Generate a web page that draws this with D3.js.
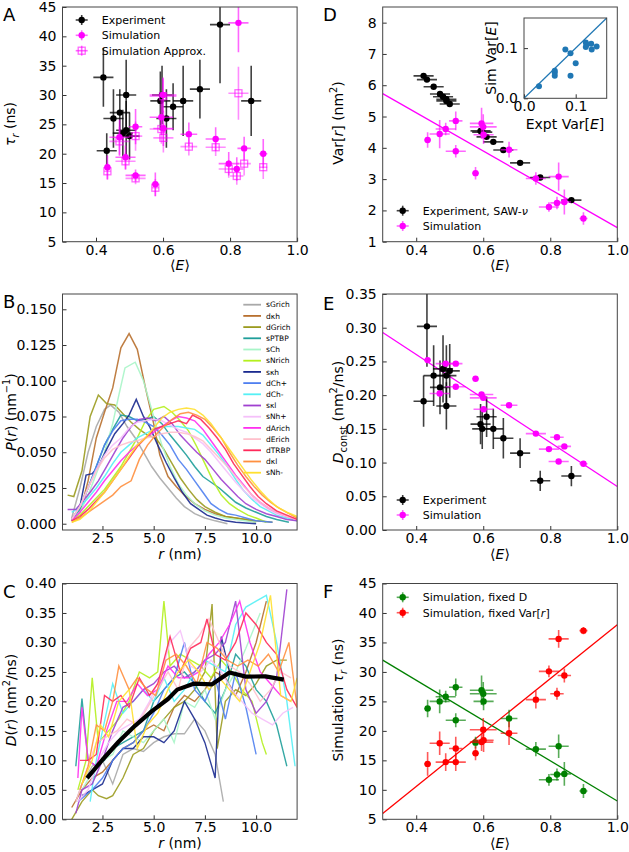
<!DOCTYPE html>
<html>
<head>
<meta charset="utf-8">
<script src="https://cdn.jsdelivr.net/npm/d3@7"></script>
<style>
  body { margin: 0; background: #fff; }
  text { font-family: "DejaVu Sans", sans-serif; }
</style>
</head>
<body>
<script>
// ---------- datos ----------
// Experimento (16 secuencias)
const expE = [0.422, 0.432, 0.452, 0.471, 0.48, 0.49, 0.49, 0.50, 0.592, 0.597, 0.61, 0.63, 0.66, 0.71, 0.77, 0.863];
const expEErr = [0.03, 0.03, 0.03, 0.03, 0.03, 0.03, 0.03, 0.03, 0.03, 0.03, 0.03, 0.03, 0.03, 0.03, 0.03, 0.03];
const expTau = [33, 20.5, 26, 27, 23.5, 24, 30, 23, 29, 30, 26, 28, 29, 31, 42, 29];
const expTauErr = [5, 3, 5, 4, 4, 5, 6, 4, 5, 5, 5, 4, 6, 5, 10, 6];
const expVar = [6.30, 6.18, 5.95, 5.72, 5.63, 5.55, 5.50, 5.40, 4.54, 4.50, 4.35, 4.19, 3.93, 3.52, 3.05, 2.33];
const expD = [0.191, 0.302, 0.229, 0.2115, 0.239, 0.229, 0.184, 0.236, 0.157, 0.150, 0.168, 0.150, 0.136, 0.114, 0.073, 0.080];
const expDErr = [0.038, 0.06, 0.045, 0.04, 0.05, 0.045, 0.035, 0.04, 0.03, 0.03, 0.03, 0.03, 0.03, 0.022, 0.015, 0.015];

// Simulación (16 secuencias)
const simE = [0.434, 0.47, 0.488, 0.518, 0.518, 0.577, 0.595, 0.6, 0.601, 0.677, 0.757, 0.796, 0.82, 0.825, 0.842, 0.899];
const simEErr = [0.01, 0.03, 0.03, 0.02, 0.03, 0.01, 0.035, 0.04, 0.03, 0.025, 0.03, 0.03, 0.02, 0.03, 0.02, 0.012];
const simTau = [17.7, 22.8, 19.4, 24.6, 16.3, 14.8, 26.2, 30.0, 24.3, 23.3, 22.5, 18.3, 17.4, 42.3, 20.9, 20.0];
const simTauErr = [2, 3, 2, 3, 1, 2, 3, 3, 3, 2, 2, 2, 2, 5, 2, 2.5];
const simTauApprox = [17.0, 22.1, 18.7, 23.0, 15.8, 14.2, 24.2, 29.8, 22.7, 21.2, 21.1, 17.4, 16.2, 30.3, 18.3, 17.7];
const simTauApproxErr = [1.5, 2.5, 1.5, 2.5, 1, 1.5, 2.5, 3, 2.5, 1.5, 1.5, 1.5, 1.5, 4.5, 2, 2];
const simVar = [4.25, 4.44, 4.60, 4.86, 3.89, 3.19, 4.78, 4.67, 4.42, 3.94, 3.02, 2.11, 2.24, 3.08, 2.27, 1.74];
const simVarErr = [0.25, 0.45, 0.2, 0.3, 0.2, 0.2, 0.5, 0.4, 0.3, 0.25, 0.2, 0.15, 0.2, 0.45, 0.4, 0.2];
const simD = [0.252, 0.2025, 0.2467, 0.2467, 0.2125, 0.2244, 0.201, 0.196, 0.179, 0.185, 0.143, 0.120, 0.1375, 0.1017, 0.124, 0.0983];
const simDErr = [0.003, 0.003, 0.003, 0.003, 0.003, 0.003, 0.003, 0.003, 0.003, 0.003, 0.003, 0.003, 0.003, 0.003, 0.003, 0.003];
const tauFixedD = [23.8, 25.0, 25.8, 27.4, 21.8, 18.0, 26.9, 26.3, 25.0, 22.1, 16.9, 11.7, 12.6, 17.4, 12.7, 9.8];
const tauFixedDErr = [1.5, 2, 1, 1.5, 1.2, 1, 2.5, 2, 1.5, 1.5, 1.2, 1, 1, 2, 2, 1.2];
const tauFixedVar = [14.4, 17.9, 14.7, 17.0, 14.7, 16.2, 18.1, 20.2, 18.4, 19.6, 25.3, 30.1, 26.3, 35.6, 29.4, 37.0];
const tauFixedVarErr = [2, 2, 1.5, 2, 1.5, 1.2, 1.5, 2, 2, 2, 1.5, 1, 1, 1.5, 1.2, 0.6];

// Ajustes lineales [ordenada, pendiente]
const fitVar = [7.564, -6.114];
const fitD = [0.3909, -0.3264];
const fitFixedD = [42.24, -34.14];
const fitFixedVar = [-7.71, 45.71];

// Recuadro: Var[E] experimento vs simulación
const insetExpt = [0.029, 0.0595, 0.0595, 0.0595, 0.080, 0.090, 0.090, 0.100, 0.1196, 0.121, 0.1196, 0.130, 0.131, 0.1405];
const insetSim = [0.024, 0.055, 0.051, 0.045, 0.097, 0.090, 0.045, 0.070, 0.111, 0.1066, 0.102, 0.1086, 0.0974, 0.1033];

// Curvas por secuencia
const seqNames = ["sGrich", "dκh", "dGrich", "sPTBP", "sCh", "sNrich", "sκh", "dCh+", "dCh-", "sκl", "sNh+", "dArich", "dErich", "dTRBP", "dκl", "sNh-"];
const seqColors = ["#a9a9a9", "#b8702f", "#9b9b1f", "#1f9e9a", "#a8f5c8", "#b4f01e", "#1a2a8f", "#4f7ff0", "#55f0f5", "#a040d0", "#f5c0fa", "#ff30f0", "#ffc0cc", "#ff2a5a", "#ff9040", "#ffe030"];

const pCurves = [
  [[1.0,0.004],[1.4,0.025],[1.8,0.05],[2.2,0.068],[2.6,0.08],[2.9,0.083],[3.3,0.078],[3.7,0.068],[4.1,0.06],[4.5,0.05],[4.9,0.04],[5.3,0.032],[5.7,0.025],[6.1,0.018],[6.5,0.012],[7.0,0.007],[7.5,0.004],[8.0,0.002],[8.6,0.0]],
  [[1.0,0.002],[1.4,0.008],[1.8,0.03],[2.2,0.06],[2.6,0.078],[3.0,0.095],[3.4,0.123],[3.8,0.133],[4.2,0.122],[4.6,0.095],[5.0,0.07],[5.3,0.048],[5.7,0.033],[6.1,0.026],[6.5,0.02],[7.0,0.014],[7.5,0.01],[8.0,0.007],[8.5,0.005],[9.0,0.004],[9.5,0.003],[10.0,0.001]],
  [[0.8,0.020],[1.1,0.019],[1.5,0.037],[1.9,0.075],[2.3,0.090],[2.7,0.084],[3.1,0.083],[3.5,0.077],[3.9,0.071],[4.3,0.066],[4.7,0.062],[5.1,0.060],[5.5,0.052],[5.9,0.042],[6.3,0.032],[6.7,0.024],[7.1,0.017],[7.5,0.012],[8.0,0.008],[8.5,0.005],[9.0,0.004],[9.5,0.003],[10.0,0.002],[10.8,0.001]],
  [[1.0,0.003],[1.4,0.01],[1.8,0.025],[2.2,0.04],[2.6,0.055],[3.0,0.066],[3.4,0.076],[3.8,0.075],[4.2,0.072],[4.6,0.073],[5.0,0.075],[5.4,0.070],[5.8,0.062],[6.2,0.055],[6.6,0.048],[7.0,0.040],[7.4,0.033],[7.8,0.029],[8.2,0.025],[8.6,0.02],[9.0,0.015],[9.5,0.011],[10.0,0.008],[10.5,0.005],[11.0,0.003],[11.6,0.001]],
  [[1.0,0.002],[1.4,0.008],[1.8,0.02],[2.2,0.035],[2.6,0.05],[3.0,0.07],[3.3,0.09],[3.6,0.109],[4.1,0.113],[4.5,0.100],[4.8,0.085],[5.1,0.07],[5.4,0.055],[5.8,0.04],[6.2,0.028],[6.6,0.02],[7.0,0.014],[7.5,0.009],[8.0,0.006],[8.5,0.004],[9.0,0.003],[10.0,0.001]],
  [[1.0,0.002],[1.4,0.006],[1.8,0.012],[2.2,0.018],[2.6,0.024],[3.0,0.032],[3.4,0.04],[3.8,0.05],[4.2,0.06],[4.6,0.072],[5.0,0.08],[5.5,0.082],[5.9,0.078],[6.3,0.072],[6.7,0.065],[7.1,0.054],[7.5,0.042],[7.9,0.03],[8.3,0.02],[8.7,0.014],[9.1,0.01],[9.6,0.006],[10.0,0.004],[10.5,0.001]],
  [[1.0,0.003],[1.4,0.012],[1.7,0.034],[2.0,0.035],[2.3,0.04],[2.7,0.052],[3.1,0.063],[3.5,0.07],[3.8,0.076],[4.15,0.087],[4.5,0.075],[4.8,0.068],[5.2,0.055],[5.6,0.043],[6.0,0.032],[6.4,0.022],[6.8,0.014],[7.2,0.01],[7.6,0.006],[8.0,0.004],[8.5,0.002],[9.0,0.001],[10.0,0.0]],
  [[1.0,0.002],[1.4,0.012],[1.8,0.025],[2.2,0.04],[2.6,0.055],[3.0,0.065],[3.4,0.072],[3.8,0.073],[4.2,0.073],[4.6,0.071],[5.0,0.068],[5.4,0.062],[5.8,0.055],[6.2,0.045],[6.6,0.038],[7.0,0.03],[7.4,0.022],[7.8,0.014],[8.2,0.01],[8.6,0.007],[9.0,0.006],[9.5,0.004],[10.0,0.002],[10.8,0.001]],
  [[1.0,0.008],[1.4,0.012],[1.8,0.018],[2.2,0.025],[2.6,0.033],[3.0,0.042],[3.4,0.05],[3.8,0.055],[4.2,0.06],[4.6,0.063],[5.0,0.066],[5.4,0.068],[5.8,0.068],[6.2,0.068],[6.6,0.067],[7.0,0.066],[7.4,0.062],[7.8,0.055],[8.2,0.048],[8.6,0.04],[9.0,0.031],[9.4,0.023],[9.8,0.017],[10.2,0.012],[10.6,0.009],[11.0,0.006],[11.5,0.004],[12.0,0.002]],
  [[0.8,0.010],[1.2,0.010],[1.5,0.015],[1.9,0.022],[2.3,0.03],[2.7,0.04],[3.1,0.05],[3.5,0.06],[3.9,0.068],[4.3,0.073],[4.7,0.074],[5.1,0.072],[5.5,0.075],[5.9,0.07],[6.3,0.062],[6.7,0.056],[7.1,0.05],[7.5,0.045],[7.9,0.038],[8.3,0.031],[8.7,0.025],[9.1,0.019],[9.5,0.014],[10.0,0.01],[10.5,0.007],[11.0,0.005],[11.5,0.003],[12.0,0.002]],
  [[1.0,0.003],[1.4,0.012],[1.8,0.025],[2.2,0.038],[2.6,0.048],[3.0,0.055],[3.4,0.06],[3.8,0.067],[4.2,0.071],[4.6,0.072],[5.0,0.073],[5.4,0.072],[5.8,0.069],[6.2,0.066],[6.6,0.064],[7.0,0.06],[7.4,0.056],[7.8,0.05],[8.2,0.043],[8.6,0.036],[9.0,0.029],[9.4,0.023],[9.8,0.018],[10.2,0.014],[10.6,0.01],[11.0,0.007],[11.5,0.005],[12.0,0.003]],
  [[1.0,0.002],[1.4,0.008],[1.8,0.015],[2.2,0.022],[2.6,0.03],[3.0,0.037],[3.4,0.044],[3.8,0.05],[4.2,0.055],[4.6,0.06],[5.0,0.064],[5.4,0.068],[5.8,0.072],[6.2,0.075],[6.6,0.074],[7.0,0.072],[7.4,0.066],[7.8,0.058],[8.2,0.05],[8.6,0.042],[9.0,0.034],[9.4,0.027],[9.8,0.02],[10.2,0.015],[10.6,0.011],[11.0,0.008],[11.5,0.005],[12.0,0.003]],
  [[1.0,0.003],[1.4,0.012],[1.8,0.025],[2.2,0.037],[2.6,0.046],[3.0,0.052],[3.4,0.055],[3.8,0.057],[4.2,0.058],[4.6,0.06],[5.0,0.061],[5.4,0.063],[5.8,0.064],[6.2,0.064],[6.6,0.063],[7.0,0.061],[7.4,0.058],[7.8,0.052],[8.2,0.046],[8.6,0.04],[9.0,0.033],[9.4,0.026],[9.8,0.02],[10.2,0.015],[10.6,0.011],[11.0,0.008],[11.5,0.005],[12.0,0.003]],
  [[1.0,0.002],[1.4,0.005],[1.8,0.01],[2.2,0.016],[2.6,0.022],[3.0,0.03],[3.4,0.038],[3.8,0.046],[4.2,0.054],[4.6,0.06],[5.0,0.066],[5.4,0.068],[5.8,0.07],[6.2,0.072],[6.6,0.07],[6.9,0.076],[7.3,0.073],[7.7,0.067],[8.1,0.06],[8.5,0.052],[8.9,0.042],[9.3,0.034],[9.7,0.026],[10.1,0.019],[10.5,0.014],[11.0,0.009],[11.5,0.006],[12.0,0.003]],
  [[1.0,0.001],[1.4,0.004],[1.8,0.008],[2.2,0.012],[2.6,0.016],[3.0,0.02],[3.4,0.026],[3.9,0.03],[4.3,0.045],[4.7,0.055],[5.1,0.062],[5.5,0.068],[5.9,0.073],[6.3,0.077],[6.7,0.078],[7.1,0.076],[7.5,0.073],[7.9,0.067],[8.3,0.06],[8.7,0.05],[9.1,0.041],[9.5,0.033],[9.9,0.026],[10.3,0.02],[10.7,0.015],[11.1,0.011],[11.6,0.007],[12.0,0.004]],
  [[1.0,0.001],[1.4,0.003],[1.8,0.008],[2.2,0.015],[2.6,0.022],[3.0,0.03],[3.4,0.038],[3.8,0.047],[4.2,0.055],[4.6,0.06],[5.0,0.067],[5.4,0.074],[5.8,0.078],[6.2,0.08],[6.6,0.081],[7.0,0.08],[7.4,0.076],[7.8,0.07],[8.2,0.062],[8.6,0.054],[9.0,0.046],[9.4,0.038],[9.8,0.03],[10.2,0.023],[10.6,0.017],[11.0,0.012],[11.5,0.008],[12.0,0.005]]
];

const dCurves = [
  [[1.2,0.03],[1.5,0.06],[2.0,0.09],[2.5,0.1],[3.0,0.06],[3.5,0.11],[4.0,0.12],[4.5,0.115],[5.0,0.13],[5.5,0.14],[6.0,0.145],[6.5,0.145],[7.0,0.17],[7.5,0.15],[8.0,0.11],[8.4,0.03]],
  [[1.0,0.02],[1.5,0.05],[2.0,0.07],[2.5,0.08],[3.0,0.1],[3.5,0.12],[4.0,0.13],[4.5,0.15],[5.0,0.16],[5.5,0.15],[6.0,0.19],[6.5,0.21],[7.0,0.2],[7.5,0.22],[8.0,0.25],[8.5,0.24],[9.0,0.21],[9.5,0.25],[10.0,0.3],[10.5,0.37]],
  [[1.0,0.0],[1.5,0.03],[2.0,0.05],[2.3,0.04],[2.7,0.035],[3.0,0.04],[3.5,0.07],[4.0,0.11],[4.5,0.12],[5.0,0.15],[5.5,0.17],[6.0,0.19],[6.5,0.2],[7.0,0.22],[7.5,0.25],[7.85,0.365],[8.1,0.12],[8.5,0.2],[9.0,0.22],[9.5,0.21],[10.0,0.23],[10.5,0.26],[11.0,0.27],[11.5,0.27]],
  [[1.2,0.09],[1.5,0.205],[1.8,0.1],[2.2,0.09],[2.6,0.1],[3.0,0.12],[3.5,0.13],[4.0,0.14],[4.5,0.15],[5.0,0.2],[5.5,0.22],[6.0,0.24],[6.5,0.25],[7.0,0.23],[7.5,0.2],[8.0,0.18],[8.5,0.22],[9.0,0.28],[9.5,0.26],[10.0,0.22],[10.5,0.2],[11.0,0.16],[11.5,0.09]],
  [[1.5,0.05],[2.0,0.08],[2.5,0.1],[3.0,0.11],[3.5,0.15],[4.0,0.14],[4.5,0.13],[5.0,0.15],[5.5,0.17],[6.0,0.13],[6.5,0.2],[7.0,0.19],[7.5,0.22],[8.0,0.17],[8.5,0.22],[9.0,0.25],[9.5,0.29],[10.2,0.35]],
  [[1.3,0.05],[1.7,0.1],[2.0,0.24],[2.3,0.13],[2.8,0.15],[3.3,0.17],[3.8,0.2],[4.3,0.25],[4.8,0.24],[5.2,0.25],[5.5,0.37],[5.8,0.26],[6.3,0.28],[6.8,0.27],[7.3,0.26],[7.8,0.24],[8.3,0.27],[8.8,0.25],[9.3,0.22],[9.8,0.2],[10.3,0.13],[10.5,0.11]],
  [[1.5,0.04],[2.0,0.05],[2.5,0.06],[3.0,0.1],[3.5,0.12],[4.0,0.12],[4.5,0.14],[5.0,0.14],[5.5,0.13],[6.0,0.15],[6.5,0.2],[7.0,0.17],[7.5,0.13],[8.0,0.07],[8.3,0.31],[8.7,0.25]],
  [[1.3,0.03],[2.0,0.05],[2.5,0.07],[3.0,0.1],[3.5,0.12],[4.0,0.13],[4.5,0.15],[5.0,0.18],[5.5,0.22],[6.0,0.24],[6.5,0.3],[7.0,0.22],[7.5,0.2],[8.0,0.24],[8.5,0.17],[9.0,0.25],[9.5,0.19],[10.0,0.11]],
  [[1.9,0.03],[2.2,0.1],[2.5,0.15],[3.0,0.23],[3.5,0.18],[4.0,0.2],[4.5,0.22],[5.0,0.2],[5.5,0.24],[6.0,0.2],[6.5,0.22],[7.0,0.25],[7.5,0.27],[8.0,0.26],[8.5,0.25],[9.0,0.33],[9.5,0.36],[10.0,0.37],[10.5,0.38],[11.0,0.3],[11.5,0.2],[11.9,0.09]],
  [[1.2,0.01],[1.5,0.05],[2.0,0.06],[2.5,0.1],[3.0,0.15],[3.5,0.19],[4.0,0.2],[4.5,0.22],[5.0,0.23],[5.5,0.25],[6.0,0.26],[6.5,0.24],[7.0,0.25],[7.5,0.27],[8.0,0.28],[8.5,0.3],[9.0,0.37],[9.5,0.22],[10.0,0.18],[10.5,0.2],[11.0,0.24],[11.5,0.39]],
  [[1.3,0.03],[1.8,0.05],[2.3,0.1],[2.8,0.13],[3.3,0.15],[3.8,0.16],[4.3,0.17],[4.8,0.2],[5.3,0.24],[5.8,0.3],[6.3,0.32],[6.8,0.26],[7.3,0.25],[7.8,0.27],[8.3,0.25],[8.8,0.22],[9.3,0.2],[9.8,0.18],[10.3,0.17],[10.8,0.16],[11.3,0.18],[11.8,0.19]],
  [[1.3,0.07],[1.5,0.19],[1.8,0.1],[2.2,0.09],[2.7,0.15],[3.2,0.2],[3.7,0.2],[4.2,0.23],[4.7,0.21],[5.2,0.22],[5.7,0.26],[6.2,0.24],[6.7,0.24],[7.2,0.25],[7.7,0.28],[8.2,0.3],[8.7,0.33],[9.2,0.37],[9.7,0.3],[10.2,0.25],[10.7,0.23],[11.2,0.21],[11.7,0.2]],
  [[1.2,0.03],[1.7,0.08],[2.2,0.13],[2.7,0.14],[3.2,0.15],[3.7,0.17],[4.2,0.16],[4.7,0.19],[5.2,0.22],[5.7,0.25],[6.2,0.22],[6.7,0.29],[7.2,0.31],[7.7,0.34],[8.2,0.3],[8.7,0.26],[9.2,0.25],[9.7,0.23],[10.2,0.2],[10.7,0.22],[11.2,0.25],[11.7,0.24]],
  [[1.4,0.1],[1.8,0.1],[2.2,0.11],[2.6,0.21],[3.0,0.2],[3.4,0.21],[3.8,0.19],[4.3,0.24],[4.8,0.21],[5.2,0.23],[5.8,0.31],[6.3,0.25],[6.8,0.29],[7.3,0.3],[7.6,0.34],[8.0,0.28],[8.5,0.27],[9.0,0.3],[9.5,0.35],[10.0,0.33],[10.5,0.3],[11.0,0.28],[11.5,0.22],[12.0,0.19]],
  [[1.4,0.05],[1.8,0.09],[2.2,0.16],[2.6,0.15],[3.0,0.2],[3.3,0.26],[3.8,0.22],[4.2,0.24],[4.7,0.22],[5.1,0.21],[5.6,0.27],[6.1,0.28],[6.6,0.26],[7.1,0.23],[7.6,0.3],[8.1,0.29],[8.6,0.27],[9.1,0.26],[9.6,0.27],[10.1,0.26],[10.6,0.28],[11.1,0.25],[11.6,0.3],[12.0,0.19]],
  [[1.5,0.06],[2.0,0.1],[2.4,0.16],[2.8,0.14],[3.3,0.2],[3.8,0.22],[4.2,0.12],[4.7,0.16],[5.2,0.18],[5.7,0.22],[6.2,0.25],[6.7,0.27],[7.2,0.25],[7.7,0.22],[8.2,0.24],[8.7,0.22],[9.2,0.2],[9.7,0.25],[10.2,0.3],[10.7,0.38],[11.2,0.21],[11.7,0.2],[12.0,0.24]]
];
const dMean = [[1.75,0.07],[2.5,0.101],[3.3,0.132],[4.1,0.159],[4.9,0.183],[5.7,0.204],[6.15,0.22],[6.95,0.23],[7.85,0.229],[8.7,0.249],[9.5,0.242],[10.45,0.2425],[11.35,0.237]];

// Marcas de los ejes
const ticksE = [0.4, 0.6, 0.8, 1.0];
const ticksR = [2.5, 5.0, 7.5, 10.0];
const ticksTau = [5, 10, 15, 20, 25, 30, 35, 40, 45];
const ticksVar = [1, 2, 3, 4, 5, 6, 7, 8];
const ticksP = [0, 0.025, 0.05, 0.075, 0.1, 0.125, 0.15];
const ticksDr = [0, 0.05, 0.1, 0.15, 0.2, 0.25, 0.3, 0.35, 0.4];
const ticksDc = [0, 0.05, 0.1, 0.15, 0.2, 0.25, 0.3, 0.35];
const ticksInset = [0, 0.1];

// ---------- lienzo ----------
const svg = d3.select("body").append("svg")
  .attr("width", 629)
  .attr("height", 852);

const MAGENTA = "#ff00ff";
let clipId = 0;

// Texto con cursivas, subíndices y superíndices
function rich(sel, parts, size) {
  let shift = 0;
  parts.forEach(p => {
    const t = typeof p === "string" ? p : p[0];
    const s = typeof p === "string" ? "" : p[1];
    const ts = sel.append("tspan").text(t);
    let target = 0;
    if (s.includes("b")) target = size * 0.28;
    if (s.includes("p")) target = -size * 0.42;
    if (target !== shift) { ts.attr("dy", target - shift); shift = target; }
    if (s.includes("i")) ts.attr("font-style", "italic");
    if (s.includes("b") || s.includes("p")) ts.attr("font-size", size * 0.7);
  });
}

function label(x, y, parts, opts = {}) {
  const size = opts.size || 14;
  const t = svg.append("text")
    .attr("font-size", size)
    .attr("fill", "#000")
    .attr("text-anchor", opts.anchor || "middle")
    .attr("transform", `translate(${x},${y})` + (opts.rotate ? " rotate(-90)" : ""));
  rich(t, parts, size);
  return t;
}

// Panel con marco, ejes y zona recortada
function panel(box, xDom, yDom, xTicks, yTicks, fx, fy) {
  const x = d3.scaleLinear().domain(xDom).range([box.l, box.r]);
  const y = d3.scaleLinear().domain(yDom).range([box.b, box.t]);
  const g = svg.append("g");
  const id = "clip" + (clipId++);
  g.append("clipPath").attr("id", id).append("rect")
    .attr("x", box.l).attr("y", box.t).attr("width", box.r - box.l).attr("height", box.b - box.t);

  const ax = g.append("g").attr("transform", `translate(0,${box.b})`)
    .call(d3.axisBottom(x).tickValues(xTicks).tickFormat(fx).tickSize(-4).tickPadding(3));
  const ay = g.append("g").attr("transform", `translate(${box.l},0)`)
    .call(d3.axisLeft(y).tickValues(yTicks).tickFormat(fy).tickSize(-4).tickPadding(6));
  [ax, ay].forEach(a => {
    a.select(".domain").remove();
    a.selectAll("text").attr("font-size", 14).attr("font-family", "DejaVu Sans").attr("fill", "#000");
    a.selectAll("line").attr("stroke", "#333");
  });

  const plot = g.append("g").attr("clip-path", `url(#${id})`);
  g.append("rect")
    .attr("x", box.l).attr("y", box.t).attr("width", box.r - box.l).attr("height", box.b - box.t)
    .attr("fill", "none").attr("stroke", "#444").attr("stroke-width", 1);
  return { x, y, g, plot, box };
}

// Barras de error + puntos
function errorbars(p, xs, ys, xe, ye, color, op, r = 3.2) {
  const gg = p.plot.append("g").attr("stroke", color).attr("stroke-opacity", op).attr("stroke-width", 1.6);
  const d = d3.range(xs.length);
  if (xe) gg.selectAll(null).data(d).join("line")
    .attr("x1", i => p.x(xs[i] - xe[i])).attr("x2", i => p.x(xs[i] + xe[i]))
    .attr("y1", i => p.y(ys[i])).attr("y2", i => p.y(ys[i]));
  if (ye) gg.selectAll(null).data(d).join("line")
    .attr("x1", i => p.x(xs[i])).attr("x2", i => p.x(xs[i]))
    .attr("y1", i => p.y(ys[i] - ye[i])).attr("y2", i => p.y(ys[i] + ye[i]));
  if (r > 0) p.plot.append("g").selectAll(null).data(d).join("circle")
    .attr("cx", i => p.x(xs[i])).attr("cy", i => p.y(ys[i])).attr("r", r).attr("fill", color);
}

function fitLine(p, fit, color) {
  const xd = p.x.domain();
  p.plot.append("line")
    .attr("x1", p.x(xd[0])).attr("y1", p.y(fit[0] + fit[1] * xd[0]))
    .attr("x2", p.x(xd[1])).attr("y2", p.y(fit[0] + fit[1] * xd[1]))
    .attr("stroke", color).attr("stroke-width", 1.3);
}

// Entrada de leyenda estilo errorbar
function legendEntry(cx, cy, color, op, text, square, size = 11) {
  const gg = svg.append("g");
  gg.append("line").attr("x1", cx - 6).attr("x2", cx + 6).attr("y1", cy).attr("y2", cy)
    .attr("stroke", color).attr("stroke-opacity", op).attr("stroke-width", 1.6);
  gg.append("line").attr("x1", cx).attr("x2", cx).attr("y1", cy - 5).attr("y2", cy + 5)
    .attr("stroke", color).attr("stroke-opacity", op).attr("stroke-width", 1.6);
  if (square) gg.append("rect").attr("x", cx - 3.5).attr("y", cy - 3.5).attr("width", 7).attr("height", 7)
    .attr("fill", "none").attr("stroke", color).attr("stroke-opacity", op).attr("stroke-width", 1.3);
  else gg.append("circle").attr("cx", cx).attr("cy", cy).attr("r", 3.2).attr("fill", color);
  label(cx + 20, cy + 4, text, { anchor: "start", size });
}

const f1 = d3.format(".1f"), f2 = d3.format(".2f"), f3 = d3.format(".3f"), f0 = d3.format("d");
const EAX = ["⟨", ["E", "i"], "⟩"];

// ---------- A ----------
const pA = panel({ l: 62.5, r: 297.1, t: 7, b: 241.7 }, [0.3, 1.0], [5, 45], ticksE, ticksTau, f1, f0);
errorbars(pA, expE, expTau, expEErr, expTauErr, "#000", 0.75);
errorbars(pA, simE, simTau, simEErr, simTauErr, MAGENTA, 0.6);
errorbars(pA, simE, simTauApprox, simEErr, simTauApproxErr, MAGENTA, 0.45, 0);
pA.plot.append("g").selectAll(null).data(d3.range(simE.length)).join("rect")
  .attr("x", i => pA.x(simE[i]) - 3.5).attr("y", i => pA.y(simTauApprox[i]) - 3.5)
  .attr("width", 7).attr("height", 7)
  .attr("fill", "none").attr("stroke", MAGENTA).attr("stroke-opacity", 0.6).attr("stroke-width", 1.3);
legendEntry(81.7, 20, "#000", 0.75, ["Experiment"]);
legendEntry(81.7, 35.3, MAGENTA, 0.6, ["Simulation"]);
legendEntry(81.7, 50.7, MAGENTA, 0.6, ["Simulation Approx."], true);
label(15, 124, [["τ", "i"], ["r", "ib"], " (ns)"], { rotate: true });
label(180, 270, EAX);
label(3, 21, ["A"], { anchor: "start", size: 18 });

// ---------- D ----------
const pD = panel({ l: 382.7, r: 617.3, t: 7, b: 241.7 }, [0.3, 1.0], [1, 8.5], ticksE, ticksVar, f1, f0);
fitLine(pD, fitVar, MAGENTA);
errorbars(pD, expE, expVar, expEErr, null, "#000", 0.75);
errorbars(pD, simE, simVar, simEErr, simVarErr, MAGENTA, 0.6);
legendEntry(402.7, 210.7, "#000", 0.75, ["Experiment, SAW-", ["ν", "i"]]);
legendEntry(402.7, 226, MAGENTA, 0.6, ["Simulation"]);
label(343, 123, ["Var[", ["r", "i"], "] (nm", ["2", "p"], ")"], { rotate: true });
label(500, 270, EAX);
label(323, 21, ["D"], { anchor: "start", size: 18 });

// Recuadro de D
const inBox = { l: 524, r: 606.7, t: 18, b: 98.3 };
const xIn = d3.scaleLinear().domain([0, 0.16]).range([inBox.l, inBox.r]);
const yIn = d3.scaleLinear().domain([0, 0.16]).range([inBox.b, inBox.t]);
const gIn = svg.append("g");
gIn.append("rect").attr("x", inBox.l).attr("y", inBox.t).attr("width", inBox.r - inBox.l).attr("height", inBox.b - inBox.t)
  .attr("fill", "#fff");
const axIn = gIn.append("g").attr("transform", `translate(0,${inBox.b})`)
  .call(d3.axisBottom(xIn).tickValues(ticksInset).tickFormat(f1).tickSize(-4).tickPadding(3));
const ayIn = gIn.append("g").attr("transform", `translate(${inBox.l},0)`)
  .call(d3.axisLeft(yIn).tickValues(ticksInset).tickFormat(f1).tickSize(-4).tickPadding(6));
[axIn, ayIn].forEach(a => {
  a.select(".domain").remove();
  a.selectAll("text").attr("font-size", 14).attr("font-family", "DejaVu Sans").attr("fill", "#000");
  a.selectAll("line").attr("stroke", "#333");
});
gIn.append("line")
  .attr("x1", xIn(0)).attr("y1", yIn(0)).attr("x2", xIn(0.16)).attr("y2", yIn(0.16))
  .attr("stroke", "#1f77b4").attr("stroke-width", 1.2);
gIn.selectAll(null).data(d3.range(insetExpt.length)).join("circle")
  .attr("cx", i => xIn(insetExpt[i])).attr("cy", i => yIn(insetSim[i])).attr("r", 3).attr("fill", "#1f77b4");
gIn.append("rect").attr("x", inBox.l).attr("y", inBox.t).attr("width", inBox.r - inBox.l).attr("height", inBox.b - inBox.t)
  .attr("fill", "none").attr("stroke", "#444");
label(496, 58, ["Sim Var[", ["E", "i"], "]"], { rotate: true });
label(565, 129, ["Expt Var[", ["E", "i"], "]"]);

// ---------- B ----------
const pB = panel({ l: 62.5, r: 297.1, t: 294, b: 530 }, [0.55, 12], [-0.0044, 0.1607], ticksR, ticksP, f1, f3);
const lineGen = (p) => d3.line().x(d => p.x(d[0])).y(d => p.y(d[1]));
pCurves.forEach((c, i) => {
  pB.plot.append("path").datum(c).attr("d", lineGen(pB))
    .attr("fill", "none").attr("stroke", seqColors[i]).attr("stroke-width", 1.5).attr("stroke-opacity", 0.9);
});
seqNames.forEach((n, i) => {
  const yy = 304.7 + i * 11.2;
  svg.append("line").attr("x1", 243.3).attr("x2", 261).attr("y1", yy).attr("y2", yy)
    .attr("stroke", seqColors[i]).attr("stroke-width", 1.8);
  svg.append("text").attr("x", 266).attr("y", yy + 2.7).attr("font-size", 7.5).text(n);
});
label(16, 412, [["P", "i"], "(", ["r", "i"], ") (nm", ["−1", "p"], ")"], { rotate: true });
label(180, 559, [["r", "i"], " (nm)"]);
label(3, 308, ["B"], { anchor: "start", size: 18 });

// ---------- E ----------
const pE = panel({ l: 382.7, r: 617.3, t: 294, b: 530 }, [0.3, 1.0], [0, 0.35], ticksE, ticksDc, f1, f2);
fitLine(pE, fitD, MAGENTA);
errorbars(pE, expE, expD, expEErr, expDErr, "#000", 0.75);
errorbars(pE, simE, simD, simEErr, simDErr, MAGENTA, 0.6);
legendEntry(402.7, 500, "#000", 0.75, ["Experiment"]);
legendEntry(402.7, 515, MAGENTA, 0.6, ["Simulation"]);
label(343, 412, [["D", "i"], ["const", "b"], " (nm", ["2", "p"], "/ns)"], { rotate: true });
label(500, 559, EAX);
label(323, 310, ["E"], { anchor: "start", size: 18 });

// ---------- C ----------
const pC = panel({ l: 62.5, r: 297.1, t: 583.5, b: 819.3 }, [0.55, 12], [0, 0.4], ticksR, ticksDr, f1, f2);
dCurves.forEach((c, i) => {
  pC.plot.append("path").datum(c).attr("d", lineGen(pC))
    .attr("fill", "none").attr("stroke", seqColors[i]).attr("stroke-width", 1.4).attr("stroke-opacity", 0.9);
});
pC.plot.append("path").datum(dMean).attr("d", lineGen(pC))
  .attr("fill", "none").attr("stroke", "#000").attr("stroke-width", 4.2).attr("stroke-linejoin", "round");
label(16, 700, [["D", "i"], "(", ["r", "i"], ") (nm", ["2", "p"], "/ns)"], { rotate: true });
label(180, 848, [["r", "i"], " (nm)"]);
label(3, 598, ["C"], { anchor: "start", size: 18 });

// ---------- F ----------
const pF = panel({ l: 382.7, r: 617.3, t: 583.5, b: 819.3 }, [0.3, 1.0], [5, 45], ticksE, ticksTau, f1, f0);
fitLine(pF, fitFixedD, "#008000");
fitLine(pF, fitFixedVar, "#ff0000");
errorbars(pF, simE, tauFixedD, simEErr, tauFixedDErr, "#008000", 0.65);
errorbars(pF, simE, tauFixedVar, simEErr, tauFixedVarErr, "#ff0000", 0.65);
legendEntry(402.7, 597.3, "#008000", 0.65, ["Simulation, fixed D"]);
legendEntry(402.7, 612.7, "#ff0000", 0.65, ["Simulation, fixed Var[", ["r", "i"], "]"]);
label(343, 700, ["Simulation ", ["τ", "i"], ["r", "ib"], " (ns)"], { rotate: true });
label(500, 848, EAX);
label(323, 598, ["F"], { anchor: "start", size: 18 });
</script>
</body>
</html>
